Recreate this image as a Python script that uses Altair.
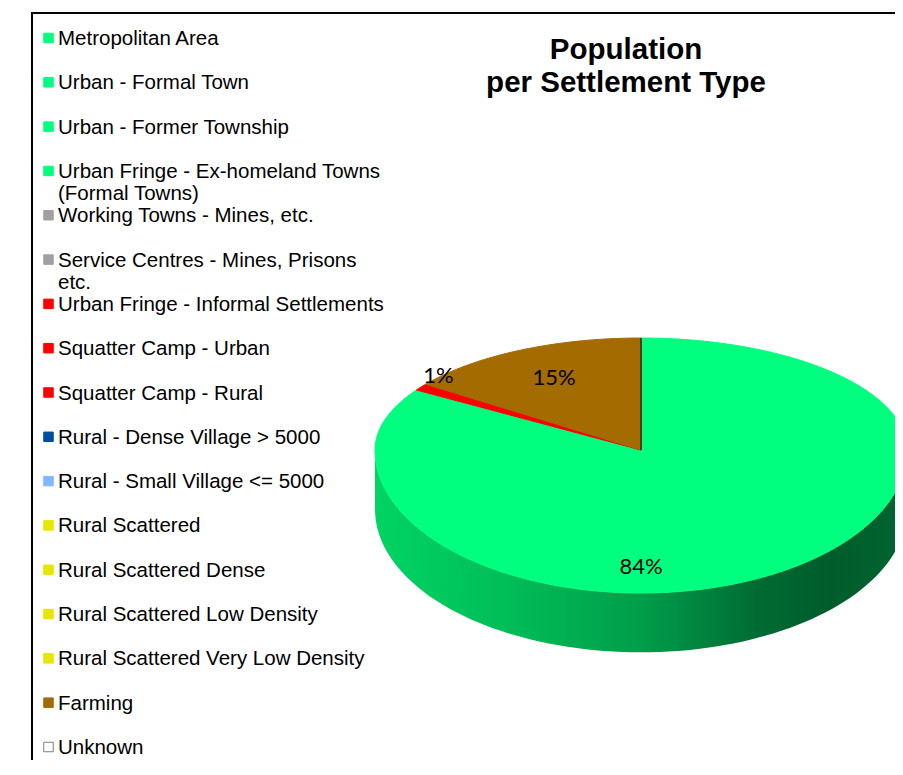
import math
import altair as alt
import pandas as pd

# ---------------- data ----------------
categories = [
    "Metropolitan Area",
    "Urban - Formal Town",
    "Urban - Former Township",
    "Urban Fringe - Ex-homeland Towns (Formal Towns)",
    "Working Towns - Mines, etc.",
    "Service Centres - Mines, Prisons etc.",
    "Urban Fringe - Informal Settlements",
    "Squatter Camp - Urban",
    "Squatter Camp - Rural",
    "Rural - Dense Village > 5000",
    "Rural - Small Village <= 5000",
    "Rural Scattered",
    "Rural Scattered Dense",
    "Rural Scattered Low Density",
    "Rural Scattered Very Low Density",
    "Farming",
    "Unknown",
]
legend_labels = [
    "Metropolitan Area",
    "Urban - Formal Town",
    "Urban - Former Township",
    "Urban Fringe - Ex-homeland Towns\n(Formal Towns)",
    "Working Towns - Mines, etc.",
    "Service Centres - Mines, Prisons\netc.",
    "Urban Fringe - Informal Settlements",
    "Squatter Camp - Urban",
    "Squatter Camp - Rural",
    "Rural - Dense Village > 5000",
    "Rural - Small Village <= 5000",
    "Rural Scattered",
    "Rural Scattered Dense",
    "Rural Scattered Low Density",
    "Rural Scattered Very Low Density",
    "Farming",
    "Unknown",
]
# share of population (%) per settlement type
shares = [84, 0, 0, 0, 0, 0, 1, 0, 0, 0, 0, 0, 0, 0, 0, 15, 0]
colors = [
    "#00FF7F", "#00FF7F", "#00FF7F", "#00FF7F",
    "#A0A0A0", "#A0A0A0",
    "#FF0000", "#FF0000", "#FF0000",
    "#004C9E", "#7FB8FF",
    "#E6E600", "#E6E600", "#E6E600", "#E6E600",
    "#A36B00", "#FFFFFF",
]
title_text = "Population\nper Settlement Type"

# ---------------- layout / style ----------------
W, H = 887, 752
FONT = "Liberation Sans"
strokes = [c if c != "#FFFFFF" else "#7F7F7F" for c in colors]

x_scale = alt.Scale(domain=[-1, 1], range=[367, 899])
y_scale = alt.Scale(domain=[-1, 0, 1], range=[585, 442, 330])
DEPTH = 0.415

color_scale = alt.Scale(domain=categories, range=colors)
stroke_scale = alt.Scale(domain=categories, range=strokes)

# ---------------- pie geometry from the shares ----------------
total = float(sum(shares))
slice_rows, label_rows = [], []
acc = 0.0
for cat, val in zip(categories, shares):
    if val <= 0:
        continue
    a0 = acc / total * 360.0
    a1 = (acc + val) / total * 360.0
    acc += val
    n = max(2, int(math.ceil(a1 - a0)) + 1)
    pts = [(0.0, 0.0)]
    for k in range(n):
        a = math.radians(a0 + (a1 - a0) * k / (n - 1))
        pts.append((math.sin(a), math.cos(a)))
    pts.append((0.0, 0.0))
    for i, (px, py) in enumerate(pts):
        slice_rows.append({"slice": cat, "i": i, "x": px, "y": py})
    frac = val / total
    lo, hi = max(a0, 90.0), min(a1, 270.0)
    if frac > 0.5 and hi > lo:
        mid, r, kind = (lo + hi) / 2.0, 0.82, "in"
    elif frac >= 0.05:
        mid, r, kind = (a0 + a1) / 2.0, 0.72, "in"
    else:
        mid, r, kind = (a0 + a1) / 2.0, 0.99, "out"
    m = math.radians(mid)
    label_rows.append({"label": f"{round(frac * 100)}%", "lx": r * math.sin(m),
                       "ly": r * math.cos(m), "kind": kind})

side_rows = []
k = 0
for d in range(90, 271, 2):
    a = math.radians(d)
    side_rows.append({"i": k, "x": math.sin(a), "y": math.cos(a)}); k += 1
for d in range(270, 89, -2):
    a = math.radians(d)
    side_rows.append({"i": k, "x": math.sin(a), "y": math.cos(a) - DEPTH}); k += 1

edge_rows = [{"i": 0, "x": 0.0, "y": 0.0}, {"i": 1, "x": math.sin(0.0), "y": math.cos(0.0)}]

df_slices = pd.DataFrame(slice_rows)
df_side = pd.DataFrame(side_rows)
df_edge = pd.DataFrame(edge_rows)
df_labels = pd.DataFrame(label_rows)
df_legend = pd.DataFrame({"category": categories, "label": legend_labels})
one = pd.DataFrame({"t": [title_text]})

X = alt.X("x:Q", scale=x_scale, axis=None)
Y = alt.Y("y:Q", scale=y_scale, axis=None)

gradient = alt.LinearGradient(
    gradient="linear", x1=0, x2=1, y1=0, y2=0,
    stops=[
        alt.GradientStop(color="#00D463", offset=0),
        alt.GradientStop(color="#00BD58", offset=0.25),
        alt.GradientStop(color="#009E4A", offset=0.5),
        alt.GradientStop(color="#006B33", offset=0.72),
        alt.GradientStop(color="#005C2B", offset=0.86),
        alt.GradientStop(color="#006531", offset=1),
    ],
)

side = alt.Chart(df_side).mark_line(filled=True, fill=gradient, strokeWidth=0).encode(
    x=X, y=Y, order=alt.Order("i:Q"))

top = alt.Chart(df_slices).mark_line(filled=True, strokeWidth=1, strokeJoin="round").encode(
    x=X, y=Y, order=alt.Order("i:Q"),
    color=alt.Color("slice:N", scale=color_scale, legend=None),
    stroke=alt.Stroke("slice:N", scale=stroke_scale, legend=None),
)

edge = alt.Chart(df_edge).mark_line(color="#2A2A2A", strokeWidth=1.5).encode(
    x=X, y=Y, order=alt.Order("i:Q"))

lab_in = alt.Chart(df_labels).transform_filter(alt.datum.kind == "in").mark_text(
    font="Lato", fontSize=22, color="#000000", align="center", baseline="middle"
).encode(x=alt.X("lx:Q", scale=x_scale, axis=None),
         y=alt.Y("ly:Q", scale=y_scale, axis=None), text="label:N")

lab_out = alt.Chart(df_labels).transform_filter(alt.datum.kind == "out").mark_text(
    font="Lato", fontSize=22, color="#000000", align="left", baseline="bottom"
).encode(x=alt.X("lx:Q", scale=x_scale, axis=None),
         y=alt.Y("ly:Q", scale=y_scale, axis=None), text="label:N")

leg_y = alt.Y("category:N", sort=categories, axis=None,
              scale=alt.Scale(type="point", domain=categories, range=[30, 739], padding=0))

leg_sq = alt.Chart(df_legend).mark_square(size=90, strokeWidth=1, opacity=1).encode(
    x=alt.value(40.5), y=leg_y,
    color=alt.Color("category:N", scale=color_scale, legend=None),
    stroke=alt.Stroke("category:N", scale=stroke_scale, legend=None),
)

leg_txt = alt.Chart(df_legend).mark_text(
    font=FONT, fontSize=20.5, color="#000000", align="left", baseline="alphabetic",
    dy=7, lineBreak="\n", lineHeight=22,
).encode(x=alt.value(50), y=leg_y, text="label:N")

title = alt.Chart(one).mark_text(
    font=FONT, fontSize=29.5, fontWeight="bold", color="#000000", align="center",
    baseline="alphabetic", lineBreak="\n", lineHeight=33,
).encode(x=alt.value(618), y=alt.value(51), text="t:N")

frame_left = alt.Chart(one).mark_rule(color="#000000", strokeWidth=2).encode(
    x=alt.value(24), y=alt.value(4), y2=alt.value(H))
frame_top = alt.Chart(one).mark_rule(color="#000000", strokeWidth=2).encode(
    x=alt.value(23), x2=alt.value(W), y=alt.value(5))

chart = alt.layer(
    frame_left, frame_top, side, top, edge, lab_in, lab_out, leg_sq, leg_txt, title
).properties(
    width=W, height=H, padding=0, autosize=alt.AutoSizeParams(type="none"),
).resolve_scale(
    x="independent", y="independent"
).configure_view(strokeWidth=0)

chart.save("out.html", embed_options={"renderer": "svg", "actions": False})
